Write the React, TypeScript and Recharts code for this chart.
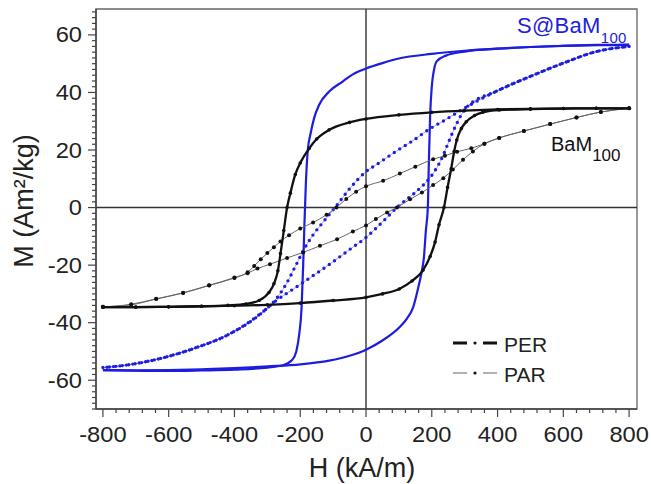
import React from 'react';
import { LineChart, Line, XAxis, YAxis, ReferenceLine, ReferenceArea } from 'recharts';

// H (kA/m), M (Am^2/kg) pairs
const bamPerDown: [number, number][] = [
  [800, 34.5], [700, 34.5], [600, 34.4], [500, 34.3], [400, 34.1], [300, 33.7], [200, 33.1], [100, 32.2],
  [0, 30.8], [-50, 29.6], [-112, 27], [-150, 23.8], [-173, 20.5], [-200, 15.5], [-215, 11.5], [-230, 5],
  [-240, 0], [-250, -8], [-260, -16], [-268, -22], [-280, -26.5], [-295, -29.5], [-325, -32.3], [-365, -33.5],
  [-420, -34], [-500, -34.3], [-600, -34.5], [-700, -34.6], [-800, -34.6],
];
const bamPerUp: [number, number][] = [
  [-800, -34.6], [-700, -34.6], [-600, -34.5], [-500, -34.3], [-400, -34.1], [-300, -33.8], [-200, -33.2],
  [-100, -32.3], [0, -31.2], [50, -30], [101, -28.3], [140, -25.5], [173, -21.8], [195, -17], [210, -12],
  [222, -6], [237, 0], [248, 7], [259, 13.5], [268, 19.5], [276, 23.5], [290, 27.5], [305, 29.8], [330, 32],
  [355, 33.1], [405, 33.9], [500, 34.2], [600, 34.4], [700, 34.5], [800, 34.5],
];
const bamParDown: [number, number][] = [
  [800, 34.5], [714, 33.2], [640, 31.3], [560, 29], [480, 26.6], [405, 24.2], [360, 22.2], [320, 20.6],
  [277, 19.4], [240, 18], [204, 16.8], [150, 14.2], [103, 11.8], [52, 9.3], [0, 7.4], [-30, 5.5], [-60, 3],
  [-90, 0], [-120, -2.5], [-161, -5.2], [-200, -7.3], [-234, -9.6], [-260, -11.8], [-280, -13.8], [-300, -15.8],
  [-320, -18], [-340, -20.3], [-360, -22.5], [-400, -24.3], [-477, -27], [-556, -29.6], [-638, -31.7],
  [-714, -33.6], [-800, -34.5],
];
const bamParUp: [number, number][] = [
  [-800, -34.5], [-714, -33.8], [-638, -31.8], [-556, -29.7], [-477, -27.1], [-400, -24.5], [-360, -22.8],
  [-330, -21.2], [-292, -19.7], [-240, -17.5], [-191, -15.6], [-140, -13.3], [-88, -11], [-40, -8.3], [0, -6.2],
  [30, -4], [64, -1.7], [94, 0], [134, 2.9], [170, 5.2], [204, 7.8], [235, 10.2], [264, 13.2], [295, 16.6],
  [325, 19.5], [360, 22.2], [405, 24.2], [480, 26.6], [560, 29], [640, 31.3], [714, 33.2], [800, 34.5],
];
const sbamPerDown: [number, number][] = [
  [800, 56.5], [700, 56.4], [600, 56.2], [500, 55.8], [400, 55.2], [300, 54.5], [200, 53.4], [100, 51.8],
  [50, 50.2], [0, 48.3], [-40, 46.3], [-71, 43.8], [-112, 40.3], [-142, 35.8], [-158, 31], [-168, 26],
  [-177, 20], [-183, 8], [-187, -5], [-191, -20], [-196, -35], [-203, -44], [-212, -50], [-225, -53],
  [-252, -54.8], [-300, -55.6], [-400, -56.3], [-500, -56.6], [-600, -56.8], [-700, -56.7], [-800, -56.5],
];
const sbamPerUp: [number, number][] = [
  [-800, -56.5], [-700, -56.6], [-600, -56.5], [-500, -56.2], [-400, -55.8], [-300, -55.2], [-200, -54.5],
  [-112, -53.2], [-50, -51.5], [0, -49.4], [50, -46.2], [101, -41.7], [125, -38.5], [143, -34.8], [161, -26.8],
  [170, -22], [176, -17.4], [182, -8], [188, 0], [191, 15], [195, 32], [200, 42], [207, 48], [215, 50.8],
  [243, 52.8], [300, 54.2], [400, 55.2], [500, 55.8], [600, 56.2], [700, 56.5], [800, 56.6],
];
const sbamParDown: [number, number][] = [
  [800, 56], [700, 54.2], [600, 50.2], [500, 45.6], [400, 40.6], [300, 34.6], [234, 30], [200, 27.8],
  [134, 22.6], [100, 20.2], [33, 15], [0, 12.5], [-48, 6.8], [-91, 0.5], [-130, -5], [-161, -9.5], [-190, -14.8],
  [-213, -20], [-245, -27], [-275, -32], [-334, -38], [-416, -44], [-517, -48.7], [-617, -52.2], [-720, -54.6],
  [-800, -55.6],
];
const sbamParUp: [number, number][] = [
  [-800, -55.6], [-720, -54.6], [-617, -52.2], [-517, -48.7], [-416, -44], [-334, -38.2], [-275, -32.5],
  [-213, -27.7], [-160, -23.6], [-112, -19.8], [-50, -14.6], [0, -10.4], [50, -5], [94, 0], [152, 5.5],
  [180, 8.5], [205, 12], [234, 18], [252, 23], [275, 29], [304, 34.6], [400, 40.6], [500, 45.6],
  [600, 50.2], [700, 54.2], [800, 56],
];

const xTicks: number[] = [];
for (let v = -800; v <= 800; v += 40) xTicks.push(v);
const yTicks: number[] = [];
for (let v = -70; v <= 68; v += 2) yTicks.push(v);

const X_DOMAIN: [number, number] = [-821, 824];
const Y_DOMAIN: [number, number] = [-70, 69];

const FONT = '"Liberation Sans", Arial, sans-serif';
const BLUE = '#1d1de0';
const BLACK = '#111111';

const pts = (a: [number, number][]) => a.map(([h, m]) => ({ h, m }));

const XTick = (props: any) => {
  const { x, y, payload } = props;
  const v = payload.value;
  const major = v % 200 === 0;
  return (
    <g>
      <line x1={x} x2={x} y1={y} y2={y + (major ? 8 : 4)} stroke="#444" strokeWidth={1.2} />
      {major && (
        <text transform={`translate(${x},${y + 33}) scale(1.1,1)`} textAnchor="middle" fontSize={21.5} fill="#222" fontFamily={FONT}>
          {v}
        </text>
      )}
    </g>
  );
};

const YTick = (props: any) => {
  const { x, y, payload } = props;
  const v = payload.value;
  const major = v % 20 === 0;
  return (
    <g>
      <line x1={x - (major ? 8 : 4)} x2={x} y1={y} y2={y} stroke="#444" strokeWidth={1.2} />
      {major && (
        <text transform={`translate(${x - 14},${y + 7.5}) scale(1.1,1)`} textAnchor="end" fontSize={21.5} fill="#222" fontFamily={FONT}>
          {v}
        </text>
      )}
    </g>
  );
};

export default function App() {
  return (
    <div style={{ position: 'absolute', left: 0, top: 0, width: 651, height: 484, background: '#fff' }}>
      <LineChart width={651} height={484} margin={{ top: 9, right: 14, bottom: 0, left: 0 }}>
        <XAxis
          dataKey="h"
          type="number"
          domain={X_DOMAIN}
          allowDataOverflow
          ticks={xTicks}
          interval={0}
          tick={<XTick />}
          tickLine={false}
          tickSize={0}
          tickMargin={0}
          axisLine={{ stroke: '#444', strokeWidth: 1.5 }}
          height={75}
        />
        <YAxis
          dataKey="m"
          type="number"
          domain={Y_DOMAIN}
          allowDataOverflow
          ticks={yTicks}
          interval={0}
          tick={<YTick />}
          tickLine={false}
          tickSize={0}
          tickMargin={0}
          axisLine={{ stroke: '#444', strokeWidth: 1.5 }}
          width={96}
        />
        <ReferenceArea x1={X_DOMAIN[0]} x2={X_DOMAIN[1]} y1={Y_DOMAIN[0]} y2={Y_DOMAIN[1]} fill="none" stroke="#666" strokeWidth={1.3} />
        <ReferenceLine x={0} stroke="#333" strokeWidth={1.4} />
        <ReferenceLine y={0} stroke="#333" strokeWidth={1.4} />

        {/* S@BaM100 PAR: dotted blue */}
        <Line data={pts(sbamParDown)} dataKey="m" type="monotone" stroke={BLUE} strokeOpacity={0.5} strokeWidth={0.8} dot={false} isAnimationActive={false} />
        <Line data={pts(sbamParUp)} dataKey="m" type="monotone" stroke={BLUE} strokeOpacity={0.5} strokeWidth={0.8} dot={false} isAnimationActive={false} />
        <Line data={pts(sbamParDown)} dataKey="m" type="monotone" stroke={BLUE} strokeWidth={3.4} strokeDasharray="0 6.5" strokeLinecap="round" dot={false} isAnimationActive={false} />
        <Line data={pts(sbamParUp)} dataKey="m" type="monotone" stroke={BLUE} strokeWidth={3.4} strokeDasharray="0 6.5" strokeLinecap="round" dot={false} isAnimationActive={false} />
        {/* S@BaM100 PER: solid blue */}
        <Line data={pts(sbamPerDown)} dataKey="m" type="monotone" stroke={BLUE} strokeWidth={2.2} dot={false} isAnimationActive={false} />
        <Line data={pts(sbamPerUp)} dataKey="m" type="monotone" stroke={BLUE} strokeWidth={2.2} dot={false} isAnimationActive={false} />
        {/* BaM100 PAR: thin gray line with black dots */}
        <Line data={pts(bamParDown)} dataKey="m" type="monotone" stroke="#666" strokeWidth={1} dot={{ r: 2, fill: BLACK, stroke: 'none' }} isAnimationActive={false} />
        <Line data={pts(bamParUp)} dataKey="m" type="monotone" stroke="#666" strokeWidth={1} dot={{ r: 2, fill: BLACK, stroke: 'none' }} isAnimationActive={false} />
        {/* BaM100 PER: thick black */}
        <Line data={pts(bamPerDown)} dataKey="m" type="monotone" stroke={BLACK} strokeWidth={2.3} dot={{ r: 1.8, fill: BLACK, stroke: 'none' }} isAnimationActive={false} />
        <Line data={pts(bamPerUp)} dataKey="m" type="monotone" stroke={BLACK} strokeWidth={2.3} dot={{ r: 1.8, fill: BLACK, stroke: 'none' }} isAnimationActive={false} />
      </LineChart>
      <svg width={651} height={484} style={{ position: 'absolute', left: 0, top: 0, pointerEvents: 'none' }} fontFamily={FONT}>
        <text x={517} y={33} fontSize={22} fill={BLUE} letterSpacing={0.3}>
          S@BaM<tspan fontSize={15} dy={10}>100</tspan>
        </text>
        <text x={551} y={151} fontSize={20} fill={BLACK}>
          BaM<tspan fontSize={17} dy={10}>100</tspan>
        </text>
        <line x1={453} x2={467} y1={343} y2={343} stroke={BLACK} strokeWidth={3} />
        <circle cx={475} cy={343} r={1.6} fill={BLACK} />
        <line x1={483} x2={497} y1={343} y2={343} stroke={BLACK} strokeWidth={3} />
        <text x={504} y={352} fontSize={21} fill="#222">PER</text>
        <line x1={453} x2={467} y1={373} y2={373} stroke="#999" strokeWidth={1.5} />
        <circle cx={475} cy={373} r={1.6} fill={BLACK} />
        <line x1={483} x2={497} y1={373} y2={373} stroke="#999" strokeWidth={1.5} />
        <text x={504} y={382} fontSize={21} fill="#222">PAR</text>
        <text x={362} y={477} fontSize={27} fill="#222" textAnchor="middle">H (kA/m)</text>
        <text x={33} y={201} fontSize={27} fill="#222" textAnchor="middle" transform="rotate(-90 33 201)">M (Am²/kg)</text>
      </svg>
    </div>
  );
}
